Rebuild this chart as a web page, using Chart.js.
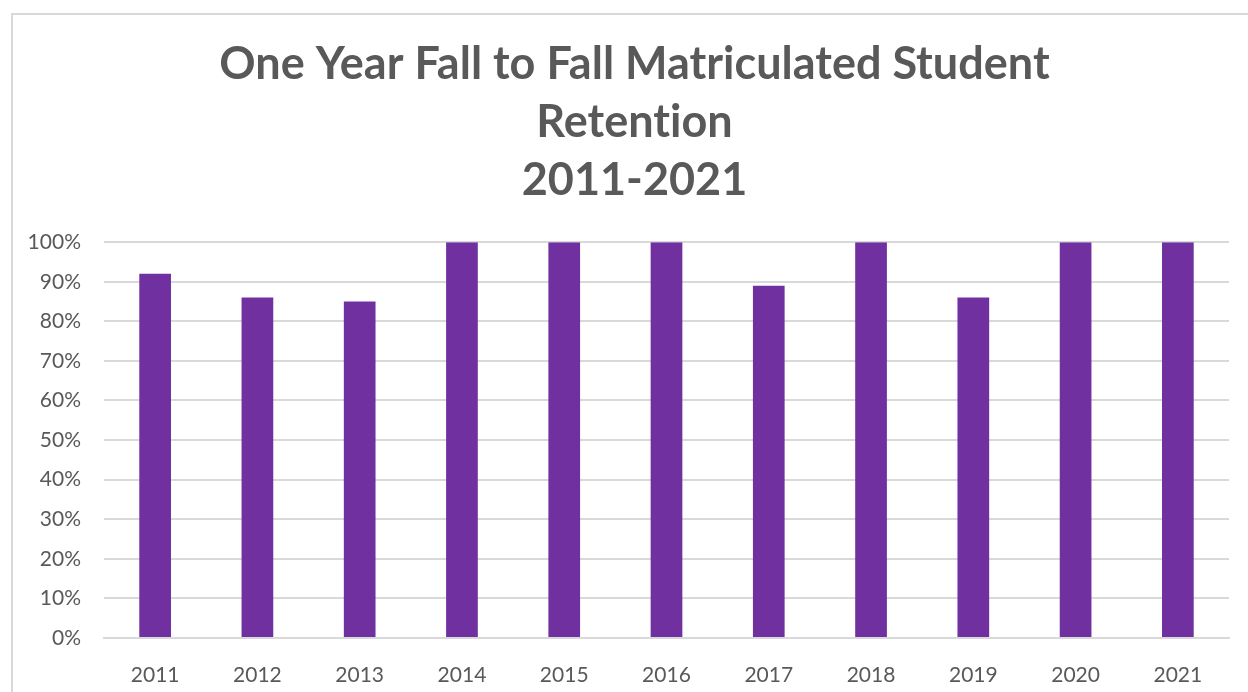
<!DOCTYPE html>
<html>
<head>
<meta charset="utf-8">
<script src="https://cdn.jsdelivr.net/npm/chart.js@4"></script>
<style>
  html, body { margin: 0; padding: 0; background: #fff; overflow: hidden; }
  .frame { position: absolute; left: 11px; top: 13px; width: 1400px; height: 800px; border: 2px solid #d9d9d9; }
  .wrap { position: absolute; left: 0; top: 0; width: 1248px; height: 692px; }
</style>
</head>
<body>
<div class="frame"></div>
<div class="wrap"><canvas id="chart"></canvas></div>
<script>
// datos
const years = ['2011', '2012', '2013', '2014', '2015', '2016', '2017', '2018', '2019', '2020', '2021'];
const retention = [92, 86, 85, 100, 100, 100, 89, 100, 86, 100, 100];
const titleLines = ['One Year Fall to Fall Matriculated Student', 'Retention', '2011-2021'];

const grey = '#595959';

// sin ligaduras (el "ti" de Lato)
const noLigatures = {
    id: 'noLigatures',
    beforeDraw(chart) { chart.ctx.letterSpacing = '0.01px'; }
};

new Chart(document.getElementById('chart'), {
    type: 'bar',
    data: {
        labels: years,
        datasets: [{ data: retention, backgroundColor: '#7030A0', barPercentage: 0.31, categoryPercentage: 1 }]
    },
    options: {
        responsive: true,
        maintainAspectRatio: false,
        animation: false,
        layout: { padding: { left: 22, right: 1, top: 10, bottom: 10 } },
        plugins: {
            legend: { display: false },
            tooltip: { enabled: false },
            title: {
                display: true,
                text: titleLines,
                color: grey,
                font: { family: 'Lato', size: 45, weight: 'bold', lineHeight: 1.29 },
                padding: { top: 25, bottom: 33 }
            }
        },
        scales: {
            x: {
                grid: { display: false },
                border: { color: '#d9d9d9', width: 2 },
                ticks: { color: grey, font: { family: 'Lato', size: 21 }, padding: 17 },
                afterFit: axis => { axis.height = 44; }
            },
            y: {
                min: 0,
                max: 100,
                grid: { color: '#d9d9d9', lineWidth: 2, drawTicks: false },
                border: { display: false },
                ticks: {
                    stepSize: 10,
                    color: grey,
                    font: { family: 'Lato', size: 21 },
                    padding: 23,
                    callback: v => v + '%'
                },
                afterFit: axis => { axis.width = 82; }
            },
            // eje vacio a la derecha, solo para dejar margen
            yRight: {
                position: 'right',
                min: 0,
                max: 100,
                grid: { display: false },
                border: { display: false },
                ticks: { display: false },
                afterFit: axis => { axis.width = 18; }
            }
        }
    },
    plugins: [noLigatures]
});
</script>
</body>
</html>
